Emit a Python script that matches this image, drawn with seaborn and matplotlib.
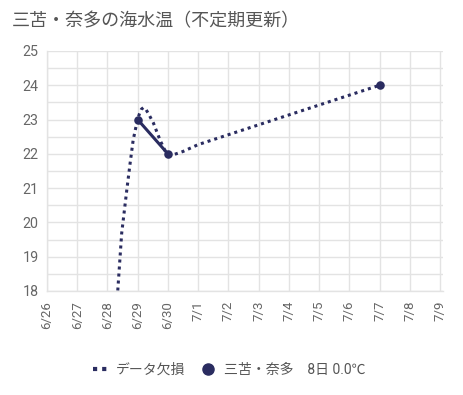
import numpy as np
import pandas as pd
import matplotlib
matplotlib.use("Agg")
import matplotlib.pyplot as plt
from matplotlib.lines import Line2D
import seaborn as sns

# dates on the x axis (one per day)
DATES = ["6/26", "6/27", "6/28", "6/29", "6/30", "7/1", "7/2",
         "7/3", "7/4", "7/5", "7/6", "7/7", "7/8", "7/9"]

# measured sea temperature (only a few days have data)
OBS_DATES = ["6/29", "6/30", "7/7"]
OBS_TEMP = [23.0, 22.0, 24.0]
OBS_SEG = [0, 0, 1]  # 6/30 -> 7/7 is not joined by the solid line

# "データ欠損" dotted curve (x in days after 6/26)
GAP_X = [2.28, 2.34, 2.47, 2.64, 2.75, 2.85, 2.97, 3.05, 3.12, 3.19,
         3.27, 3.37, 3.52, 3.74, 3.90, 4.0, 4.2, 4.5, 5.0, 11.0]
GAP_Y = [17.4, 18.0, 19.68, 20.95, 21.73, 22.4, 22.9, 23.15, 23.30, 23.35,
         23.30, 23.15, 22.9, 22.4, 22.1, 22.0, 21.98, 22.07, 22.27, 24.0]

TITLE = "三苫・奈多の海水温（不定期更新）"
LEGEND_LABELS = ["データ欠損", "三苫・奈多　8日 0.0℃"]

NAVY = "#2a2c60"
GRID = "#e3e3e3"

sns.set_style("white")
plt.rcParams["font.family"] = ["Roboto", "Noto Sans CJK JP", "DejaVu Sans"]

obs = pd.DataFrame({
    "x": [DATES.index(d) for d in OBS_DATES],
    "temp": OBS_TEMP,
    "seg": OBS_SEG,
})
gap = pd.DataFrame({"x": GAP_X, "temp": GAP_Y})

fig = plt.figure(figsize=(4.63, 3.95), dpi=100)
ax = fig.add_axes([47 / 463, 104 / 395, 396 / 463, 240 / 395])

sns.lineplot(data=gap, x="x", y="temp", ax=ax, sort=False, estimator=None,
             color=NAVY, lw=2.2, linestyle=(0, (1, 1.3)),
             solid_capstyle="butt", dash_capstyle="butt")
sns.lineplot(data=obs, x="x", y="temp", units="seg", estimator=None, ax=ax,
             color=NAVY, lw=2.2)
sns.scatterplot(data=obs, x="x", y="temp", ax=ax, color=NAVY, s=38,
                edgecolor=NAVY, linewidth=0, zorder=5)

ax.set_xlim(0, 13.1)
ax.set_ylim(18, 25)
ax.set_xticks(range(len(DATES)))
ax.set_xticklabels(DATES, rotation=90, fontsize=9.5, color="#666666")
ax.set_yticks(range(18, 26))
ax.set_yticks(np.arange(18.5, 25, 1.0), minor=True)
ax.tick_params(axis="y", which="both", length=3, color=GRID, width=1,
               labelsize=10.3, labelcolor="#666666", pad=3)
ax.tick_params(axis="x", length=4, color=GRID, width=1, pad=3)
ax.grid(True, which="both", color=GRID, lw=1)
ax.set_axisbelow(True)
ax.set_xlabel("")
ax.set_ylabel("")
for side in ["top", "right"]:
    ax.spines[side].set_visible(False)
for side in ["left", "bottom"]:
    ax.spines[side].set_color(GRID)
    ax.spines[side].set_linewidth(1)

fig.text(12 / 463, 1 - 21 / 395, TITLE, fontsize=13, color="#555555",
         va="center", ha="left")

handles = [
    Line2D([], [], color=NAVY, lw=3, linestyle=(0, (1, 1.2))),
    Line2D([], [], color=NAVY, marker="o", markersize=8, lw=0),
]
fig.legend(handles, LEGEND_LABELS, loc="center", ncol=2, frameon=False,
           bbox_to_anchor=(0.495, 1 - 370 / 395), fontsize=10,
           labelcolor="#555555", handlelength=1.0, handletextpad=0.6,
           columnspacing=1.2)

fig.savefig("out.png", dpi=100)
